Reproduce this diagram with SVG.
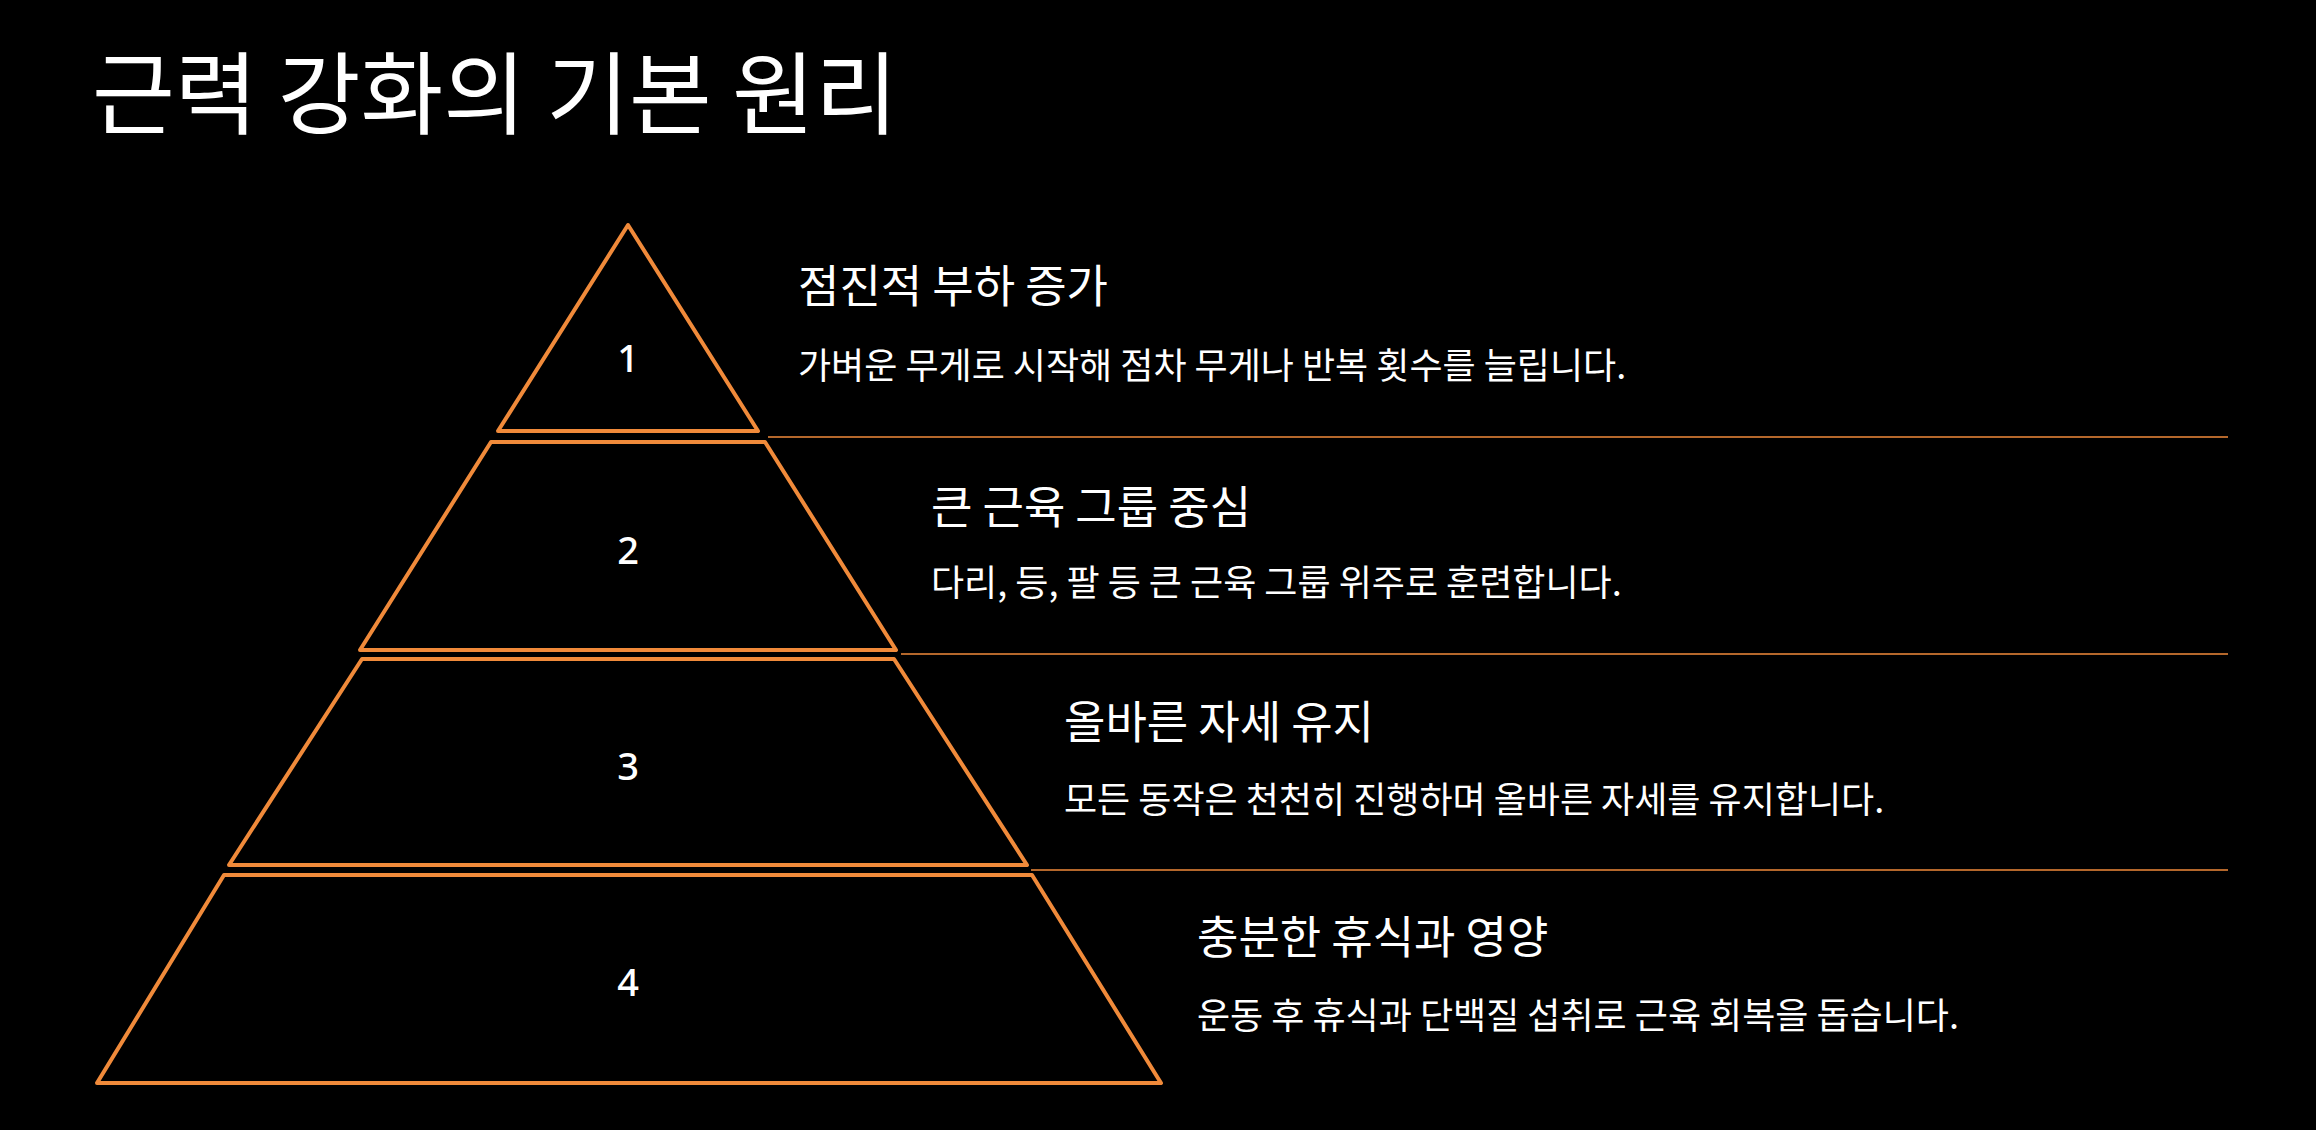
<svg xmlns="http://www.w3.org/2000/svg" width="2316" height="1130" viewBox="0 0 2316 1130">
<style>
.t{fill:#000;stroke:#F08A3A;stroke-width:4;stroke-linejoin:round}
.n{fill:#fff;font-family:"Noto Sans","Noto Sans CJK KR",sans-serif;font-size:38px;font-weight:500;text-anchor:middle;dominant-baseline:central}
.h{fill:#fff;font-family:"Noto Sans CJK KR",sans-serif;font-size:45px}
.d{fill:#fff;font-family:"Noto Sans CJK KR",sans-serif;font-size:36px}
.l{stroke:#F08A3A;stroke-width:1.6}
</style>
<rect width="2316" height="1130" fill="#000"/>
<text x="92" y="127" fill="#fff" font-family="'Noto Sans CJK KR',sans-serif" font-size="90">근력 강화의 기본 원리</text>
<g id="connectors">
<line class="l" x1="768" y1="437" x2="2228" y2="437"/>
<line class="l" x1="901" y1="654" x2="2228" y2="654"/>
<line class="l" x1="1031" y1="870" x2="2228" y2="870"/>
</g>
<g id="tier1"><polygon class="t" points="628,225 758,431 498,431"/><text class="n" x="628" y="357">1</text>
<text class="h" x="798" y="303">점진적 부하 증가</text><text class="d" x="798" y="379">가벼운 무게로 시작해 점차 무게나 반복 횟수를 늘립니다.</text></g>
<g id="tier2"><polygon class="t" points="491,442 765,442 896,650 360,650"/><text class="n" x="628" y="549">2</text>
<text class="h" x="931" y="524">큰 근육 그룹 중심</text><text class="d" x="931" y="596">다리, 등, 팔 등 큰 근육 그룹 위주로 훈련합니다.</text></g>
<g id="tier3"><polygon class="t" points="362,659 894,659 1027,865 229,865"/><text class="n" x="628" y="765">3</text>
<text class="h" x="1064" y="739">올바른 자세 유지</text><text class="d" x="1064" y="813">모든 동작은 천천히 진행하며 올바른 자세를 유지합니다.</text></g>
<g id="tier4"><polygon class="t" points="224,875 1032,875 1161,1083 97,1083"/><text class="n" x="628" y="981">4</text>
<text class="h" x="1197" y="954">충분한 휴식과 영양</text><text class="d" x="1197" y="1029">운동 후 휴식과 단백질 섭취로 근육 회복을 돕습니다.</text></g>
</svg>
